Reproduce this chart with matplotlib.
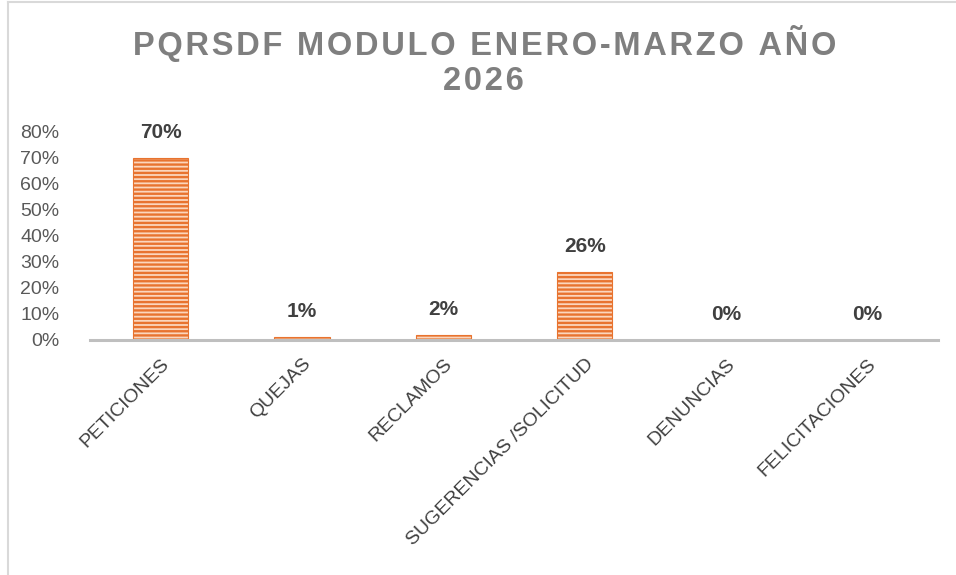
import matplotlib
matplotlib.use("Agg")
import matplotlib.pyplot as plt
from matplotlib.lines import Line2D
from matplotlib.ticker import PercentFormatter

plt.rcParams["font.family"] = ["Liberation Sans", "DejaVu Sans"]
plt.rcParams["hatch.linewidth"] = 1.7

categorias = ["PETICIONES", "QUEJAS", "RECLAMOS", "SUGERENCIAS /SOLICITUD",
              "DENUNCIAS", "FELICITACIONES"]
valores = [0.70, 0.01, 0.02, 0.26, 0.0, 0.0]
titulo = ["PQRSDF MODULO ENERO-MARZO AÑO", "2026"]

fig = plt.figure(figsize=(9.56, 5.75), dpi=100)
ax = fig.add_axes([90 / 956, 1 - 340 / 575, 848 / 956, 208 / 575])

x = range(len(categorias))
ax.bar(x, valores, width=0.39, facecolor="#fbd6bd", edgecolor="#e8732f",
       linewidth=0.8, hatch="----", zorder=2)

for xi, v in zip(x, valores):
    ax.annotate("{:.0%}".format(v), (xi, v), xytext=(0, 18.5),
                textcoords="offset points", ha="center", va="center",
                fontsize=15, fontweight="bold", color="#404040")

ax.set_xlim(-0.5, len(categorias) - 0.5)
ax.set_ylim(0, 0.8)
ax.set_yticks([i / 10 for i in range(9)])
ax.yaxis.set_major_formatter(PercentFormatter(1.0, decimals=0))
ax.tick_params(axis="y", length=0, pad=22, labelsize=14, labelcolor="#595959")
ax.set_xticks(list(x))
ax.set_xticklabels(categorias, rotation=45, ha="right", va="top",
                   rotation_mode="anchor", fontsize=14, color="#404040")
ax.tick_params(axis="x", length=0, pad=11)

for s in ["top", "right", "left"]:
    ax.spines[s].set_visible(False)
ax.spines["bottom"].set_color("#bfbfbf")
ax.spines["bottom"].set_linewidth(2.2)
ax.spines["bottom"].set_zorder(3)

# titulo con espaciado entre letras
hair = "\u200a"
fig.text(485 / 956, 1 - 43 / 575, hair.join(titulo[0]), ha="center",
         va="center", fontsize=23.5, fontweight="bold", color="#7f7f7f")
fig.text(483 / 956, 1 - 82 / 575, hair.join(titulo[1]), ha="center",
         va="center", fontsize=23.5, fontweight="bold", color="#7f7f7f")

# marco del grafico
fig.add_artist(Line2D([8 / 956, 8 / 956], [0, 1 - 2 / 575], color="#d9d9d9", lw=1.5))
fig.add_artist(Line2D([8 / 956, 1], [1 - 2 / 575, 1 - 2 / 575], color="#d9d9d9", lw=1.5))

fig.savefig("out.png", dpi=100)
